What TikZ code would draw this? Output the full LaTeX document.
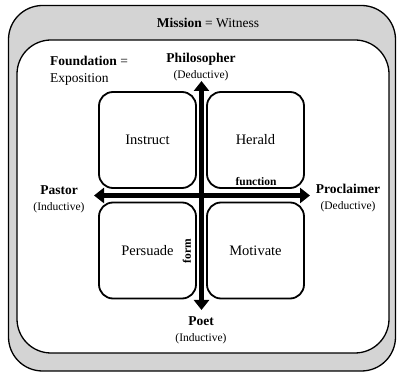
\documentclass[tikz,border=0pt]{standalone}
\usepackage{fontspec}
\setmainfont{Liberation Serif}
\usetikzlibrary{arrows.meta,positioning}

\begin{document}
\begin{tikzpicture}[x=1pt,y=-1pt,
	quad/.style={draw,line width=1.8pt,rounded corners=14pt,minimum width=97pt,minimum height=96pt,font=\fontsize{14.5}{17}\selectfont},
	pole/.style={align=center,inner sep=0pt,font=\fontsize{13.5}{16}\selectfont},
	axis/.style={line width=4.5pt,{Triangle[length=10pt,width=15pt]}-{Triangle[length=10pt,width=15pt]}},
	tag/.style={inner sep=0pt,font=\bfseries\fontsize{11.5}{13}\selectfont}]
	\useasboundingbox (0,0) rectangle (397,374);
	% mission band and foundation area
	\draw[line width=1.3pt,fill=black!17,rounded corners=34pt] (8.5,5.5) rectangle (395.5,371);
	\draw[line width=1.3pt,fill=white,rounded corners=34pt] (17,40) rectangle (389,353);
	\node [font=\fontsize{13.5}{16}\selectfont] (mission) at (208,23) {\textbf{Mission} = Witness};
	\node [pole,align=left,anchor=west,font=\fontsize{13.5}{17}\selectfont] (found) at (50,71) {\textbf{Foundation} =\\Exposition};
	% the four quadrants
	\node [quad] (instruct) at (147.5,140) {Instruct};
	\node [quad] (herald) at (255.5,140) {Herald};
	\node [quad] (persuade) at (147.5,250.5) {Persuade};
	\node [quad] (motivate) at (255.5,250.5) {Motivate};
	% axes
	\coordinate (up) at (201.5,81);
	\coordinate (down) at (201.5,310);
	\coordinate (west) at (94,195.5);
	\coordinate (east) at (310,195.5);
	\draw [axis] (down) -- (up);
	\draw [axis] (west) -- (east);
	\node [tag] (function) at (256,182) {function};
	\node [tag,rotate=90] (form) at (187,251) {form};
	% poles
	\node [pole] (phil) at (201,67.5) {\textbf{Philosopher}\\{\fontsize{11.5}{16}\selectfont(Deductive)}};
	\node [pole] (pastor) at (59,199) {\textbf{Pastor}\\{\fontsize{11.5}{16}\selectfont(Inductive)}};
	\node [pole] (procl) at (348,198.5) {\textbf{Proclaimer}\\{\fontsize{11.5}{16}\selectfont(Deductive)}};
	\node [pole] (poet) at (201,330) {\textbf{Poet}\\{\fontsize{11.5}{16}\selectfont(Inductive)}};
\end{tikzpicture}
\end{document}
